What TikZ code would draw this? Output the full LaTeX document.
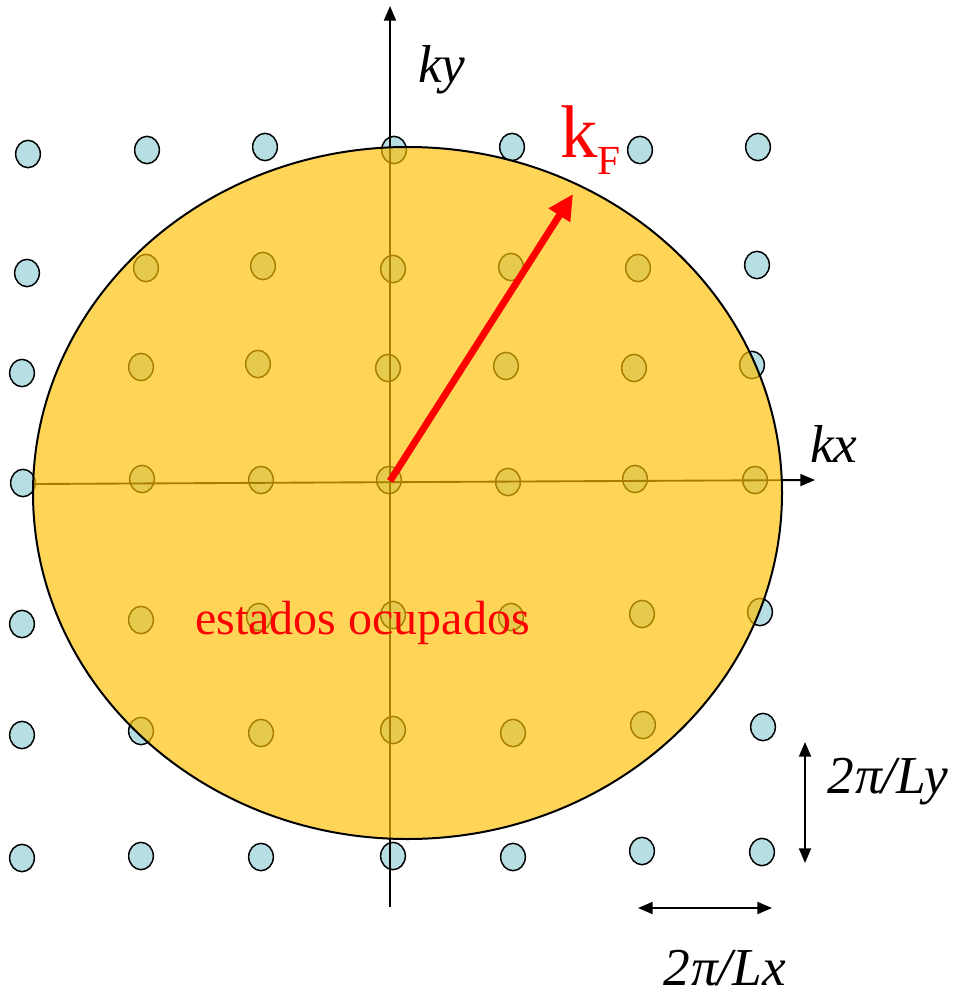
\documentclass[tikz,border=0pt]{standalone}
\usepackage{fontspec}
\setmainfont{Liberation Serif}
\usetikzlibrary{arrows.meta,shapes.geometric}
\definecolor{dotblue}{RGB}{183,222,226}
\definecolor{fermi}{RGB}{255,192,0}
\definecolor{kred}{RGB}{255,0,0}
\tikzset{
  kdot/.style={ellipse,draw=black,fill=dotblue,line width=1.1pt,minimum width=18.5pt,minimum height=20.5pt,inner sep=0pt},
  axisline/.style={line width=1.4pt,-{Triangle[length=11pt,width=9pt]}},
  dimarrow/.style={line width=1.4pt,{Triangle[length=11pt,width=9pt]}-{Triangle[length=11pt,width=9pt]}},
  ilabel/.style={font=\fontsize{40}{40}\selectfont\itshape,anchor=base west,inner sep=0pt},
}
\begin{document}
\begin{tikzpicture}[x=0.75pt,y=-0.75pt]
\useasboundingbox (0,0) rectangle (953,995);
% lattice of states
\foreach \x/\y [count=\i] in {
  28/154,147/150,265/147,394/150,512/147,640/150,758/147,
  27/273,146/268,263/266,393/269,511/267,638/268,757/265,
  22/373,141/367,258/364,388/368,506/366,634/368,752/365,
  23/483,142/479,261/480,389/480,508/482,635/479,755/480,
  22/624,141/620,259/617,393/615,511/617,642/614,760/612,
  22/735,141/731,261/733,393/730,513/733,643/725,763/727,
  22/858,141/856,261/857,393/856,513/857,642/851,762/852}
  \node[kdot] (d\i) at (\x,\y) {};
% axes
\coordinate (xs) at (33,484);
\coordinate (xe) at (815,480);
\coordinate (ys) at (390,907);
\coordinate (ye) at (390,6);
\draw[axisline] (xs) -- (xe);
\draw[axisline] (ys) -- (ye);
% Fermi disc
\node[ellipse,draw=black,line width=1.5pt,fill=fermi,fill opacity=0.66,minimum width=749pt*0.75,minimum height=692pt*0.75,inner sep=0pt] (fs) at (407.5,493) {};
% Fermi wave vector
\coordinate (o) at (390,481);
\coordinate (kt) at (573,194);
\draw[kred,line width=5.2pt,-{Triangle[length=19pt,width=18pt]}] (o) -- (kt);
% labels
\node[ilabel] (ky) at (418,83) {ky};
\node[ilabel] (kx) at (810,462) {kx};
\node[anchor=base west,inner sep=0pt,text=kred,font=\fontsize{56}{56}\selectfont] (kf) at (560,157) {k\raisebox{-13pt}{\fontsize{31}{31}\selectfont F}};
\node[anchor=base west,inner sep=0pt,text=kred,font=\fontsize{36}{36}\selectfont] (occ) at (195,634) {estados ocupados};
\node[ilabel] (ly) at (827,793) {2\kern1pt π/Ly};
\node[ilabel] (lx) at (663,985) {2\kern1pt π/Lx};
% spacing arrows
\coordinate (va) at (805,742);
\coordinate (vb) at (805,863);
\coordinate (ha) at (638,908);
\coordinate (hb) at (772,908);
\draw[dimarrow] (va) -- (vb);
\draw[dimarrow] (ha) -- (hb);
\end{tikzpicture}
\end{document}
